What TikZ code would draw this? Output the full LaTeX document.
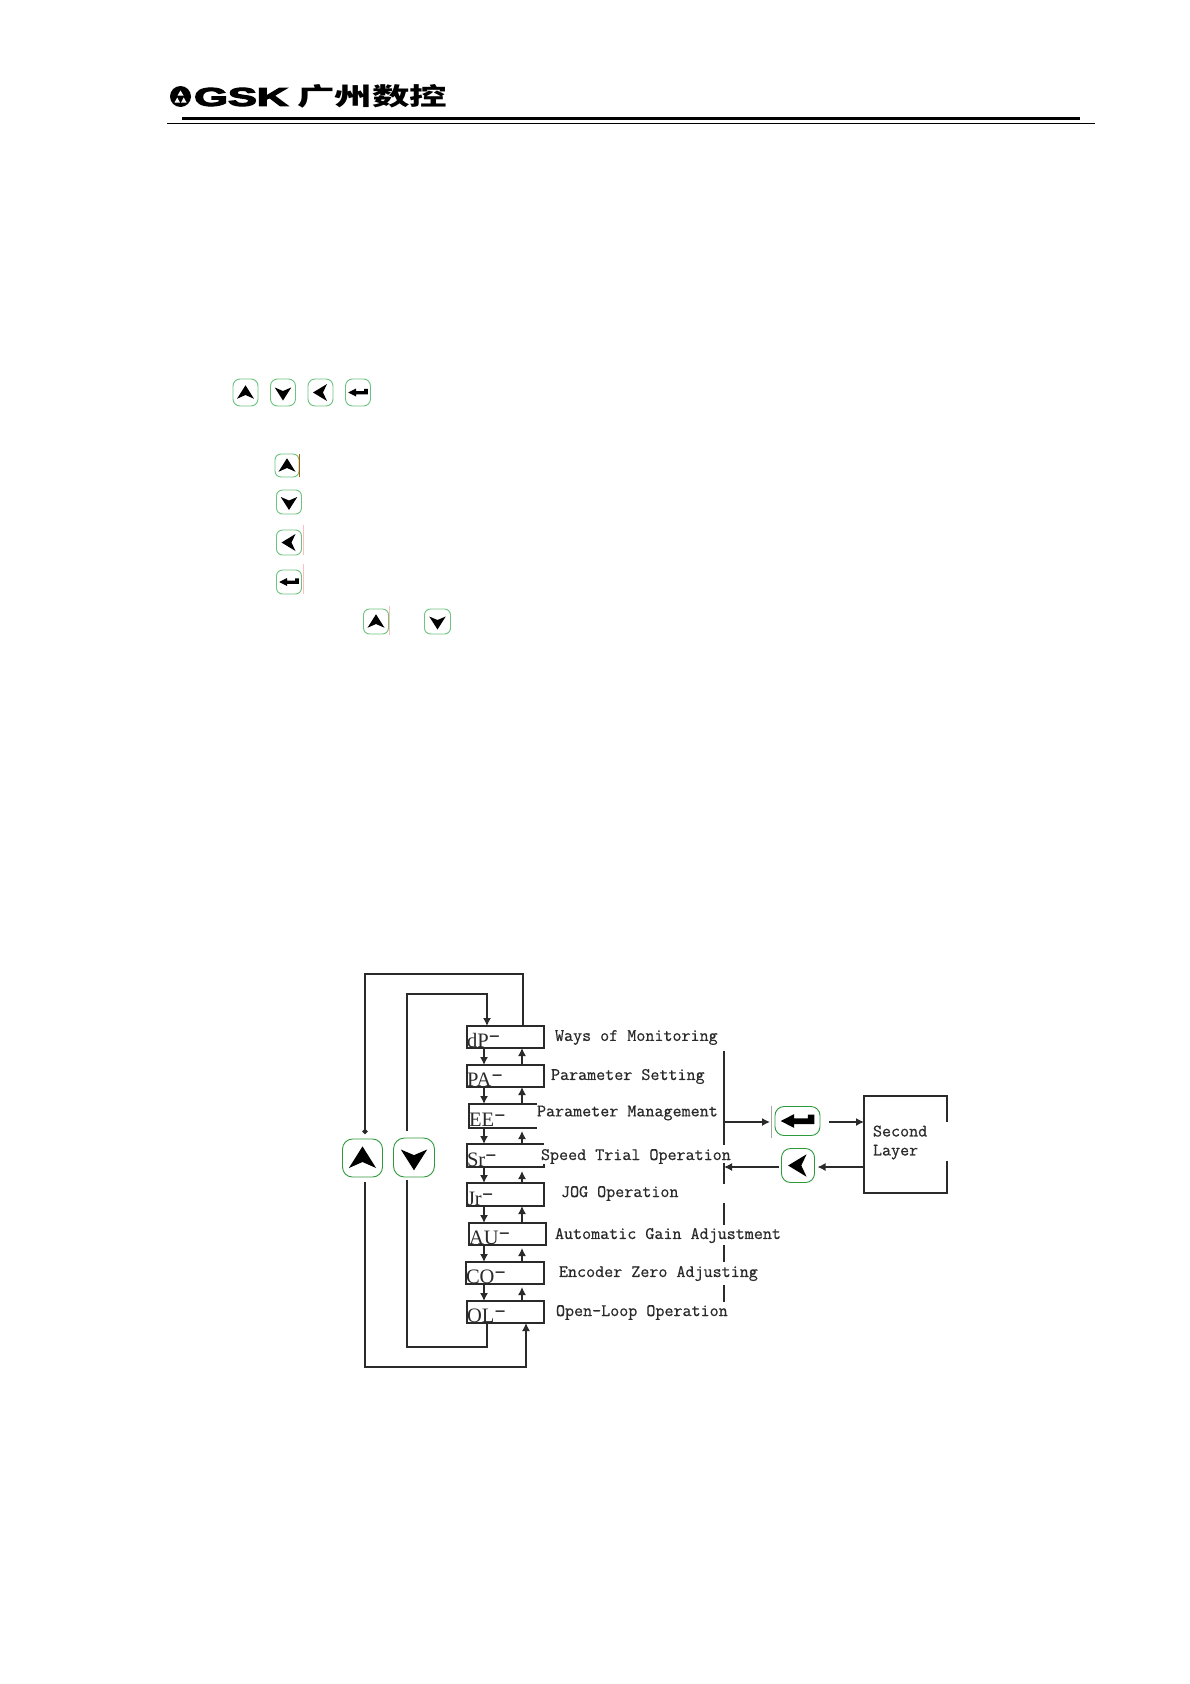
\documentclass[tikz,border=0pt]{standalone}
\usepackage{fontspec}
\usepackage{graphicx}
\usetikzlibrary{arrows.meta,calc}
\newfontfamily\cjkfont{Noto Sans CJK SC}
\newfontfamily\regfont{Liberation Serif}
\newfontfamily\logofont{Liberation Sans}[FakeBold=4]
\newfontfamily\labfont{Latin Modern Mono}[FakeBold=0.6]
\definecolor{ink}{HTML}{2A2A2A}
\definecolor{keygreen}{HTML}{2E9A3C}
\definecolor{keylight}{HTML}{6CC47E}
\tikzset{
  conn/.style={draw=ink,line width=1.35pt},
  tip/.tip={Latex[length=8pt,width=8pt]},
  arr/.style={conn,-tip},
  regbox/.style={inner sep=0pt,outer sep=0pt},
  boxline/.style={draw=ink,line width=1.2pt},
  reglabel/.style={inner sep=0pt,outer sep=0pt,anchor=base west,text=ink,font=\regfont\fontsize{20.5}{22}\selectfont},
  lab/.style={inner sep=0pt,outer sep=0pt,anchor=west,text=ink,font=\labfont\fontsize{17.55}{19}\selectfont},
  keybase/.style={inner sep=0pt,outer sep=0pt,draw=#1,line width=.9pt,fill=white},
  tickline/.style={line width=.6pt},
}
\newcommand\glyphUp[2]{\fill[black,shift={(#1.center)},x=#2pt,y=-#2pt] (0,-.29)--(.34,.25)--(0,.1)--(-.34,.25)--cycle;}
\newcommand\glyphDown[2]{\fill[black,shift={(#1.center)},x=#2pt,y=-#2pt] (0,.32)--(.33,-.2)--(0,-.06)--(-.33,-.2)--cycle;}
\newcommand\glyphLeft[2]{\fill[black,shift={(#1.center)},x=#2pt,y=-#2pt] (-.3,0)--(.26,-.34)--(.1,0)--(.26,.34)--cycle;}
\newcommand\glyphEnter[2]{\fill[black,shift={(#1.center)},x=#2pt,y=-#2pt] (-.39,0)--(-.08,-.16)--(-.08,-.06)--(.24,-.06)--(.24,-.15)--(.39,-.15)--(.39,.07)--(-.08,.07)--(-.08,.16)--cycle;}
% name, cx, cy, w, h, colour, radius
\newcommand\keynode[7]{\node[keybase=#6,rectangle,rounded corners=#7pt,minimum width=#4pt,minimum height=#5pt] (#1) at (#2,#3) {};}
\newcommand\regname[1]{#1\raisebox{6pt}{\scalebox{1.7}[1]{-}}}
\begin{document}
\begin{tikzpicture}[x=1pt,y=-1pt]
\useasboundingbox (0,0) rectangle (1190,1684);
\fill[white] (0,0) rectangle (1190,1684);

% ---------- header ----------
\node[circle,fill=black,inner sep=0pt,minimum size=21pt] (logoc) at (180.5,96.5) {};
\fill[white,shift={(logoc.center)}] (0,-6)--(3,-1)--(-3,-1)--cycle (-6,6)--(-3.2,1)--(-.6,6)--cycle (6,6)--(3.2,1)--(.6,6)--cycle;
\node[inner sep=0pt,anchor=west] (logot) at (194,97) {\resizebox{94pt}{18pt}{\logofont\bfseries GSK}};
\node[inner sep=0pt,anchor=west] (logoz) at (297,96.5) {\resizebox{150pt}{21pt}{\cjkfont\bfseries 广州数控}};
\coordinate (hA) at (182,118.5); \coordinate (hB) at (1080,118.5);
\coordinate (hC) at (167,123.5); \coordinate (hD) at (1095,123.5);
\draw[line width=3pt,black] (hA) -- (hB);
\draw[line width=1.1pt,black] (hC) -- (hD);

% ---------- small keys ----------
\keynode{ka}{245.5}{392.5}{25}{27}{keylight}{7} \glyphUp{ka}{25}
\keynode{kb}{283}{392.5}{25}{27}{keylight}{7} \glyphDown{kb}{25}
\keynode{kc}{320.5}{392.5}{25}{27}{keylight}{7} \glyphLeft{kc}{25}
\keynode{kd}{358}{392.5}{25}{27}{keylight}{7} \glyphEnter{kd}{25}
\keynode{ke}{287}{465.5}{24}{23}{keylight}{6} \glyphUp{ke}{25}
\keynode{kf}{289}{502}{25}{24}{keylight}{6} \glyphDown{kf}{25}
\keynode{kg}{289}{542.5}{25}{25}{keylight}{6} \glyphLeft{kg}{25}
\keynode{kh}{289}{582}{25}{24}{keylight}{6} \glyphEnter{kh}{25}
\keynode{ki}{376}{621.5}{25}{25}{keylight}{6} \glyphUp{ki}{25}
\keynode{kj}{437.5}{621.5}{26}{25}{keylight}{6} \glyphDown{kj}{25}
\draw[tickline,color=orange!70!black] (ke.north east) -- (ke.south east);
\draw[tickline,color=red!25] ([xshift=1.5pt,yshift=5pt]kg.north east) -- ([xshift=1.5pt]kg.south east);
\draw[tickline,color=red!25] ([xshift=1.5pt,yshift=6pt]kh.north east) -- ([xshift=1.5pt]kh.south east);
\draw[tickline,color=red!25] ([xshift=.7pt,yshift=3pt]ki.north east) -- ([xshift=.7pt,yshift=-1pt]ki.south east);

% ---------- register boxes ----------
\node[regbox,minimum width=77pt,minimum height=22pt,boxline] (dP) at (505.5,1037) {};
\node[regbox,minimum width=77pt,minimum height=22pt,boxline] (PA) at (505.5,1076) {};
\node[regbox,minimum width=68pt,minimum height=24pt] (EE) at (503,1116) {};
\node[regbox,minimum width=77pt,minimum height=23pt] (Sr) at (505.5,1155.5) {};
\node[regbox,minimum width=77pt,minimum height=23pt,boxline] (Jr) at (505.5,1194.5) {};
\node[regbox,minimum width=77pt,minimum height=22pt,boxline] (AU) at (507.5,1234) {};
\node[regbox,minimum width=78pt,minimum height=22pt,boxline] (CO) at (505,1273) {};
\node[regbox,minimum width=77pt,minimum height=22pt,boxline] (OL) at (505.5,1312) {};
\draw[boxline] (EE.north east) -- (EE.north west) -- (EE.south west) -- (EE.south east);
\draw[boxline] (Sr.north east) -- (Sr.north west) -- (Sr.south west) -- (Sr.south east) -- ([yshift=3pt]Sr.south east);
\node[reglabel] (dPt) at ([yshift=1pt]dP.south west) {\regname{dP}};
\node[reglabel] (PAt) at ([yshift=1pt]PA.south west) {\regname{PA}};
\node[reglabel] (EEt) at ([yshift=2pt]EE.south west) {\regname{EE}};
\node[reglabel] (Srt) at ([yshift=1pt]Sr.south west) {\regname{Sr}};
\node[reglabel] (Jrt) at ([yshift=1pt]Jr.south west) {\regname{Jr}};
\node[reglabel] (AUt) at ([yshift=1pt]AU.south west) {\regname{AU}};
\node[reglabel] (COt) at ([yshift=1pt]CO.south west) {\regname{CO}};
\node[reglabel] (OLt) at ([yshift=1pt]OL.south west) {\regname{OL}};

% ---------- descriptions ----------
\node[lab] (l1) at (555,1037.5) {Ways of Monitoring};
\node[lab] (l2) at (551,1076.5) {Parameter Setting};
\node[lab] (l3) at (537,1113) {Parameter Management};
\node[lab] (l4) at (541,1156.5) {Speed Trial Operation};
\node[lab] (l5) at (561,1193.5) {JOG Operation};
\node[lab] (l6) at (555,1235.5) {Automatic Gain Adjustment};
\node[lab] (l7) at (559,1273.5) {Encoder Zero Adjusting};
\node[lab] (l8) at (556,1312.5) {Open-Loop Operation};

% ---------- big keys ----------
\keynode{kUp}{362.5}{1158}{40}{38}{keygreen}{10} \glyphUp{kUp}{40}
\keynode{kDn}{414}{1157.5}{41}{39}{keygreen}{11} \glyphDown{kDn}{40}
\keynode{kEnter}{797.5}{1121}{45}{29}{keygreen}{9} \glyphEnter{kEnter}{43}
\keynode{kLeft}{798}{1165.5}{33}{34}{keygreen}{9} \glyphLeft{kLeft}{33}

% ---------- second layer ----------
\node[regbox,minimum width=83pt,minimum height=97pt] (second) at (905.5,1144.5) {};
\draw[boxline,line width=1.35pt] ([yshift=-26pt]second.north east) -- (second.north east) -- (second.north west) -- (second.south west) -- (second.south east) -- ([yshift=32pt]second.south east);
\node[lab,align=left] (secondt) at (873,1142.5) {Second\\Layer};

% ---------- loops ----------
\coordinate (xd) at (484,0); \coordinate (xu) at (522,0);
\coordinate (xA) at (523,0); \coordinate (xB) at (365,0);
\coordinate (yA) at (0,974); \coordinate (xC) at (407,0);
\coordinate (yB) at (0,994); \coordinate (xE) at (487,0);
\coordinate (yC) at (0,1347); \coordinate (yD) at (0,1367);
\coordinate (xF) at (526,0);
\draw[conn,-{Circle[length=5pt,width=5pt]}] (dP.north -| xA) -- (xA |- yA) -- (xB |- yA) -- ([yshift=5pt]xB |- kUp.north);
\draw[arr] ([yshift=7pt]xC |- kDn.north) -- (xC |- yB) -- (xE |- yB) -- (dP.north -| xE);
\draw[conn] (OL.south -| xE) -- (xE |- yC) -- (xC |- yC) -- ([yshift=-3pt]xC |- kDn.south);
\draw[arr] ([yshift=-5pt]xB |- kUp.south) -- (xB |- yD) -- (xF |- yD) -- (OL.south -| xF);

% ---------- arrows between boxes ----------
\foreach \a/\b in {dP/PA,PA/EE,EE/Sr,Sr/Jr,Jr/AU,AU/CO,CO/OL}{
  \draw[arr] (\a.south -| xd) -- (\b.north -| xd);
}
\draw[arr] (PA.north -| xu) -- (dP.south -| xu);
\draw[arr] (EE.north -| xu) -- (PA.south -| xu);
\draw[arr] (Sr.north -| xu) -- ([yshift=-3pt]EE.south -| xu);
\draw[arr] (Jr.north -| xu) -- ([yshift=-4pt]Sr.south -| xu);
\draw[arr] (AU.north -| xu) -- (Jr.south -| xu);
\draw[arr] (CO.north -| xu) -- ([yshift=-3pt]AU.south -| xu);
\draw[arr] (OL.north -| xu) -- ([yshift=-3pt]CO.south -| xu);

% ---------- bus ----------
\coordinate (xbus) at (724,0);
\foreach \p/\q in {1051/1145,1163/1184,1203/1225,1245/1262,1285/1302}{
  \draw[conn] (xbus |- 0,\p) -- (xbus |- 0,\q);
}
\coordinate (yEnter) at (0,1122); \coordinate (yLeft) at (0,1167);
\draw[arr] (xbus |- yEnter) -- ([xshift=-5pt]kEnter.west |- yEnter);
\draw[tickline,color=black!35] ([xshift=-3.5pt,yshift=1pt]kEnter.north west) -- ([xshift=-3.5pt,yshift=-2pt]kEnter.south west);
\draw[arr] ([xshift=9pt]kEnter.east |- yEnter) -- (second.west |- yEnter);
\draw[arr] (second.west |- yLeft) -- ([xshift=3pt]kLeft.east |- yLeft);
\draw[arr] ([xshift=-3pt]kLeft.west |- yLeft) -- (xbus |- yLeft);
\end{tikzpicture}
\end{document}
